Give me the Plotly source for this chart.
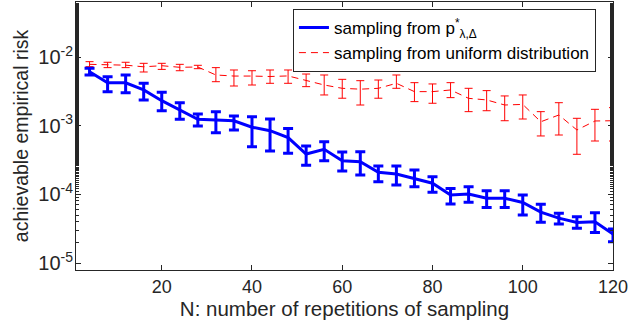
import numpy as np
import plotly.graph_objects as go

N = [4, 8, 12, 16, 20, 24, 28, 32, 36, 40, 44, 48, 52, 56, 60,
     64, 68, 72, 76, 80, 84, 88, 92, 96, 100, 104, 108, 112, 116, 120]

blue_mean = [6.1e-3, 4.2e-3, 4.2e-3, 3.31e-3, 2.31e-3, 1.69e-3, 1.24e-3, 1.21e-3, 1.18e-3, 9.5e-4,
             8.45e-4, 6.7e-4, 3.86e-4, 4.53e-4, 3.09e-4, 2.99e-4, 2.09e-4, 1.98e-4, 1.71e-4, 1.45e-4,
             9.8e-5, 1.01e-4, 8.75e-5, 8.75e-5, 7.6e-5, 5.5e-5, 4.5e-5, 3.9e-5, 4.0e-5, 2.64e-5]
blue_hi = [6.84e-3, 5.16e-3, 5.47e-3, 4.14e-3, 3.06e-3, 2.16e-3, 1.48e-3, 1.6e-3, 1.38e-3, 1.35e-3,
           1.25e-3, 9.1e-4, 5.06e-4, 5.85e-4, 4.14e-4, 4.17e-4, 2.59e-4, 2.59e-4, 2.26e-4, 1.81e-4,
           1.22e-4, 1.29e-4, 1.13e-4, 1.13e-4, 9.77e-5, 7.16e-5, 5.3e-5, 4.73e-5, 5.41e-5, 3.13e-5]
blue_lo = [5.47e-3, 3.13e-3, 3.02e-3, 2.37e-3, 1.65e-3, 1.24e-3, 9.9e-4, 7.9e-4, 8.65e-4, 4.94e-4,
           4.28e-4, 3.98e-4, 2.65e-4, 3.09e-4, 2.19e-4, 1.91e-4, 1.53e-4, 1.37e-4, 1.29e-4, 1.07e-4,
           7.24e-5, 7.66e-5, 6.43e-5, 6.43e-5, 5.0e-5, 3.92e-5, 3.7e-5, 3.2e-5, 2.77e-5, 2.04e-5]

red_mean = [7.82e-3, 7.65e-3, 7.6e-3, 7.2e-3, 7.47e-3, 7.08e-3, 7.15e-3, 5.47e-3, 5.28e-3, 5.28e-3,
            5.2e-3, 5.3e-3, 4.52e-3, 3.91e-3, 3.5e-3, 3.4e-3, 3.5e-3, 4.14e-3, 3.13e-3, 3.13e-3,
            3.31e-3, 2.5e-3, 2.37e-3, 2.0e-3, 2.04e-3, 1.14e-3, 1.43e-3, 8.65e-4, 1.17e-3, 1.18e-3]
red_hi = [8.55e-3, 8.38e-3, 8.38e-3, 8.09e-3, 8.09e-3, 7.82e-3, 7.57e-3, 7.0e-3, 6.47e-3, 6.31e-3,
          6.47e-3, 6.47e-3, 5.65e-3, 5.47e-3, 4.73e-3, 4.52e-3, 4.62e-3, 5.47e-3, 4.23e-3, 4.05e-3,
          4.23e-3, 3.5e-3, 3.24e-3, 2.71e-3, 2.8e-3, 1.6e-3, 2.16e-3, 1.28e-3, 1.73e-3, 1.83e-3]
red_lo = [7.23e-3, 7.0e-3, 7.0e-3, 6.05e-3, 6.6e-3, 6.31e-3, 6.76e-3, 4.37e-3, 3.78e-3, 3.91e-3,
          4.14e-3, 4.14e-3, 3.7e-3, 2.8e-3, 2.51e-3, 2.0e-3, 2.51e-3, 3.5e-3, 2.24e-3, 2.12e-3,
          2.56e-3, 1.6e-3, 1.65e-3, 1.18e-3, 1.25e-3, 7.08e-4, 7.31e-4, 3.83e-4, 5.98e-4, 5.98e-4]

x_ticks = [20, 40, 60, 80, 100, 120]
y_ticks = [1e-5, 1e-4, 1e-3, 1e-2]
y_ticktext = ["10<sup>-5</sup>", "10<sup>-4</sup>", "10<sup>-3</sup>", "10<sup>-2</sup>"]

name_blue = "sampling from p<sup>*</sup><sub>λ,Δ</sub>"
name_red = "sampling from uniform distribution"

ink = "#262626"
font_family = "Liberation Sans, Arial, Helvetica, sans-serif"

bm, bh, bl = np.array(blue_mean), np.array(blue_hi), np.array(blue_lo)
rm, rh, rl = np.array(red_mean), np.array(red_hi), np.array(red_lo)

fig = go.Figure()
fig.add_trace(go.Scatter(
    x=N, y=red_mean, mode="lines", name=name_red,
    line=dict(color="#ff0000", width=1, dash="7px,5px"),
    error_y=dict(type="data", symmetric=False, array=rh - rm, arrayminus=rm - rl,
                 color="#ff0000", thickness=1, width=4),
    cliponaxis=False,
))
fig.add_trace(go.Scatter(
    x=N, y=blue_mean, mode="lines", name=name_blue,
    line=dict(color="#0000ff", width=3),
    error_y=dict(type="data", symmetric=False, array=bh - bm, arrayminus=bm - bl,
                 color="#0000ff", thickness=3, width=5),
    cliponaxis=False,
))

fig.update_layout(
    width=631, height=323,
    margin=dict(l=76, r=18, t=2, b=53, autoexpand=False),
    paper_bgcolor="white", plot_bgcolor="white",
    font=dict(family=font_family, size=18, color=ink),
    showlegend=True,
    legend=dict(
        x=0.404, y=0.974, xanchor="left", yanchor="top",
        bgcolor="white", bordercolor=ink, borderwidth=1,
        font=dict(size=17, color="black"),
        traceorder="reversed",
        tracegroupgap=0,
    ),
)
fig.update_xaxes(
    range=[1, 120], tickvals=x_ticks,
    showline=True, linecolor=ink, linewidth=1, mirror="allticks",
    ticks="inside", ticklen=5, tickcolor=ink,
    tickfont=dict(size=18),
    showgrid=False, zeroline=False, automargin=False,
    title=dict(text="N: number of repetitions of sampling", standoff=2, font=dict(size=20.5)),
)
fig.update_yaxes(
    type="log", range=[-5.102, -1.199],
    tickvals=y_ticks, ticktext=y_ticktext,
    showline=True, linecolor=ink, linewidth=1, mirror="allticks",
    ticks="inside", ticklen=5, tickcolor=ink,
    tickfont=dict(size=20),
    ticklabelstandoff=-2,
    minor=dict(ticks="inside", ticklen=3, tickcolor=ink, showgrid=False),
    showgrid=False, zeroline=False, automargin=False,
    title=dict(text="achievable empirical risk", standoff=4, font=dict(size=19.5)),
)

fig.write_html("out.html", config={"displayModeBar": False},
               post_script="document.body.style.margin='0';")
